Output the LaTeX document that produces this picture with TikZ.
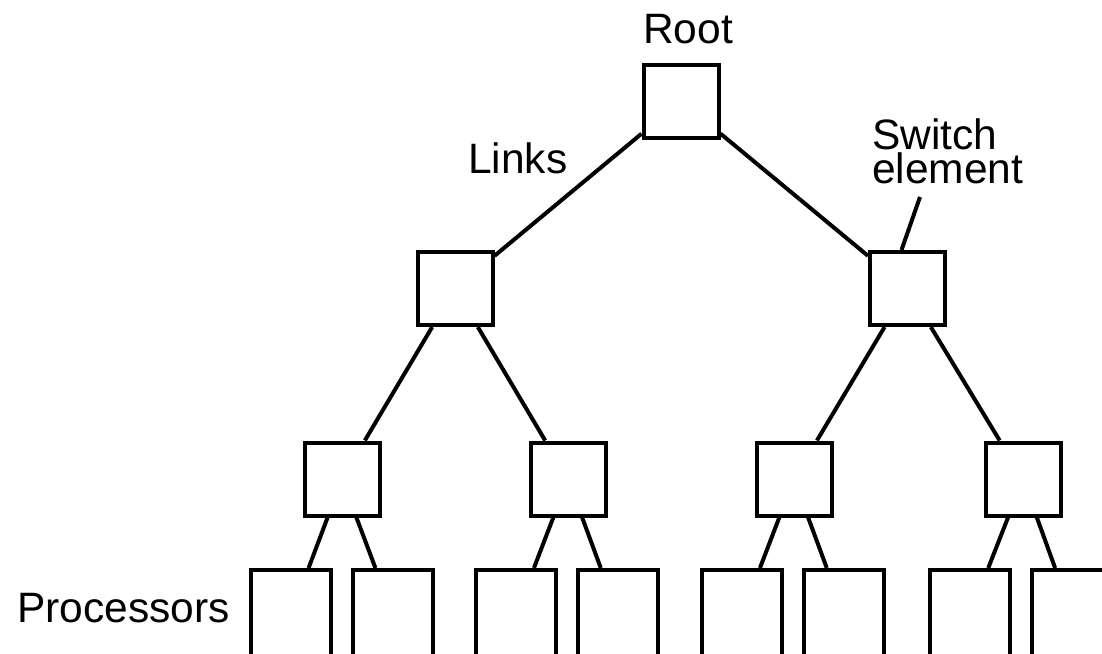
\documentclass[tikz,border=0pt]{standalone}
\usepackage{fontspec}
\setmainfont{Liberation Sans}
\begin{document}
\begin{tikzpicture}[x=1pt,y=-1pt,
  swbox/.style={draw, line width=4pt, minimum width=75pt, minimum height=73pt, inner sep=0pt},
  procbox/.style={draw, line width=4pt, minimum width=80pt, minimum height=90pt, inner sep=0pt},
  lab/.style={font=\fontsize{42.5}{34}\selectfont, inner sep=0pt},
  link/.style={line width=4pt}]
\useasboundingbox (0,0) rectangle (1102,653);
\clip (0,0) rectangle (1102,653);
% switch elements
\node[swbox] (r) at (681,101) {};
\node[swbox] (a) at (455,288.5) {};
\node[swbox] (b) at (907.5,288.5) {};
\node[swbox] (a1) at (342,479) {};
\node[swbox] (a2) at (568,479) {};
\node[swbox] (b1) at (794,479) {};
\node[swbox] (b2) at (1023,479) {};
% processors
\node[procbox] (p1) at (291,615) {};
\node[procbox] (p2) at (393,615) {};
\node[procbox] (p3) at (516,615) {};
\node[procbox] (p4) at (618,615) {};
\node[procbox] (p5) at (742,615) {};
\node[procbox] (p6) at (844,615) {};
\node[procbox] (p7) at (970,615) {};
\node[procbox] (p8) at (1072,615) {};
% links
\draw[link] (r) -- (a);
\draw[link] (r) -- (b);
\draw[link] (a) -- (a1);
\draw[link] (a) -- (a2);
\draw[link] (b) -- (b1);
\draw[link] (b) -- (b2);
\draw[link] (a1) -- (p1);
\draw[link] (a1) -- (p2);
\draw[link] (a2) -- (p3);
\draw[link] (a2) -- (p4);
\draw[link] (b1) -- (p5);
\draw[link] (b1) -- (p6);
\draw[link] (b2) -- (p7);
\draw[link] (b2) -- (p8);
% labels
\node[lab, anchor=base] (root) at (688,43) {Root};
\node[lab, anchor=base west] (links) at (468,173) {Links};
\node[lab, anchor=base west, align=left] (swel) at (872,183) {Switch\\element};
\node[lab, anchor=base west] (procs) at (17,622) {Processors};
\coordinate (sep) at (920,197);
\draw[link] ([xshift=-6pt]b.north) -- (sep);
\end{tikzpicture}
\end{document}
